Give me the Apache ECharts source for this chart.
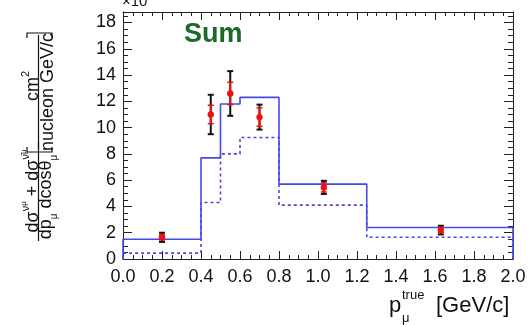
<!DOCTYPE html>
<html><head><meta charset="utf-8">
<script src="https://cdn.jsdelivr.net/npm/echarts@6/dist/echarts.min.js"></script>
<style>html,body{margin:0;padding:0;background:#fff}#c{width:529px;height:325px}</style>
</head><body><div id="c"></div>
<script>
const binEdges = [0, 0.4, 0.5, 0.6, 0.8, 1.25, 2.0];
const solidValues = [1.5, 7.7, 11.8, 12.3, 5.7, 2.4];
const dashedValues = [0.45, 4.3, 8.0, 9.25, 4.1, 1.65];
const pointX = [0.2, 0.45, 0.55, 0.70, 1.03, 1.63];
const pointY = [1.65, 11.0, 12.6, 10.8, 5.45, 2.2];
const statErr = [0.2, 0.7, 0.85, 0.7, 0.35, 0.2];
const totalErr = [0.35, 1.5, 1.7, 0.95, 0.5, 0.33];
const xMin = 0, xMax = 2.0, xInterval = 0.2;
const yMin = 0, yMax = 18.8, yInterval = 2;

function stepData(edges, vals) {
  const d = [[edges[0], 0]];
  for (let i = 0; i < vals.length; i++) {
    d.push([edges[i], vals[i]]);
    d.push([edges[i + 1], vals[i]]);
  }
  d.push([edges[edges.length - 1], 0]);
  return d;
}
const points = pointX.map((x, i) => [x, pointY[i], statErr[i], totalErr[i]]);

const chart = echarts.init(document.getElementById('c'));
const lab = {fontFamily: 'Liberation Sans', fontSize: 18, color: '#111'};
const axLine = {show: true, onZero: false, lineStyle: {color: '#222', width: 1}};
function xAx(pos, showLab) {
  return {type: 'value', position: pos, min: xMin, max: xMax, interval: xInterval,
    axisLine: axLine, splitLine: {show: false},
    axisTick: {show: true, inside: true, length: 8, lineStyle: {color: '#222'}},
    minorTick: {show: true, splitNumber: 4, length: 4, lineStyle: {color: '#222'}},
    axisLabel: Object.assign({show: showLab, margin: 9, formatter: v => v.toFixed(1)}, lab)};
}
function yAx(pos, showLab) {
  return {type: 'value', position: pos, min: yMin, max: yMax, interval: yInterval,
    axisLine: axLine, splitLine: {show: false},
    axisTick: {show: true, inside: true, length: 9, lineStyle: {color: '#222'}},
    minorTick: {show: true, splitNumber: 4, length: 5, lineStyle: {color: '#222'}},
    axisLabel: Object.assign({show: showLab, margin: 7, showMaxLabel: false}, lab)};
}
const rotY = Math.PI / 2;
const tf = 'Liberation Sans';
chart.setOption({
  animation: false,
  grid: {left: 123, right: 16, top: 12, bottom: 66},
  xAxis: [xAx('bottom', true), xAx('top', false)],
  yAxis: [yAx('left', true), yAx('right', false)],
  series: [
    {type: 'line', data: stepData(binEdges, solidValues), symbol: 'none',
     lineStyle: {color: '#4848e8', width: 1.6}, z: 2},
    {type: 'line', data: stepData(binEdges, dashedValues), symbol: 'none',
     lineStyle: {color: '#4848e8', width: 1.6, type: [3, 3]}, z: 2},
    {type: 'custom', data: points, z: 5,
     renderItem: function (params, api) {
       const x = api.value(0), y = api.value(1), si = api.value(2), to = api.value(3);
       const c = api.coord([x, y]);
       const tHi = api.coord([x, y + to])[1], tLo = api.coord([x, y - to])[1];
       const sHi = api.coord([x, y + si])[1], sLo = api.coord([x, y - si])[1];
       const cap = 3;
       return {type: 'group', children: [
         {type: 'line', shape: {x1: c[0], y1: tHi, x2: c[0], y2: tLo}, style: {stroke: '#111', lineWidth: 2}},
         {type: 'line', shape: {x1: c[0] - cap, y1: tHi, x2: c[0] + cap, y2: tHi}, style: {stroke: '#111', lineWidth: 2}},
         {type: 'line', shape: {x1: c[0] - cap, y1: tLo, x2: c[0] + cap, y2: tLo}, style: {stroke: '#111', lineWidth: 2}},
         {type: 'line', shape: {x1: c[0], y1: sHi, x2: c[0], y2: sLo}, style: {stroke: '#ee1111', lineWidth: 2}},
         {type: 'line', shape: {x1: c[0] - cap, y1: sHi, x2: c[0] + cap, y2: sHi}, style: {stroke: '#ee1111', lineWidth: 1.5}},
         {type: 'line', shape: {x1: c[0] - cap, y1: sLo, x2: c[0] + cap, y2: sLo}, style: {stroke: '#ee1111', lineWidth: 1.5}},
         {type: 'circle', shape: {cx: c[0], cy: c[1], r: 3.2}, style: {fill: '#ee1111'}}
       ]};
     }}
  ],
  graphic: [
    {type: 'text', left: 184, top: 21, style: {text: 'Sum', fontFamily: tf, fontWeight: 'bold', fontSize: 27, fill: '#1c6a28'}},
    {type: 'text', x: 122, y: -6, style: {text: '×10', fontFamily: tf, fontSize: 15, fill: '#111'}},
    // x-axis title
    {type: 'text', x: 389, y: 306, style: {text: 'p', fontFamily: tf, fontSize: 22, fill: '#111', verticalAlign: 'middle'}},
    {type: 'text', x: 402, y: 295, style: {text: 'true', fontFamily: tf, fontSize: 13, fill: '#111', verticalAlign: 'middle'}},
    {type: 'text', x: 402, y: 318, style: {text: 'μ', fontFamily: tf, fontSize: 13, fill: '#111', verticalAlign: 'middle'}},
    {type: 'text', x: 436, y: 306, style: {text: '[GeV/c]', fontFamily: tf, fontSize: 22, fill: '#111', verticalAlign: 'middle'}},
    // y-axis title (rotated)
    {type: 'text', x: 31, y: 191, rotation: rotY, style: {
      text: '{a|dσ}{s|ν}{ss|μ}{a| + dσ}{s|ν̄}{ss|μ}', align: 'center', verticalAlign: 'middle',
      rich: {a: {fontFamily: tf, fontSize: 18, fill: '#111', lineHeight: 22, verticalAlign: 'bottom'},
             s: {fontFamily: tf, fontSize: 11, fill: '#111', lineHeight: 22, verticalAlign: 'top'},
             ss: {fontFamily: tf, fontSize: 8, fill: '#111', lineHeight: 22, verticalAlign: 'top'}}}},
    {type: 'line', shape: {x1: 38.5, y1: 241, x2: 38.5, y2: 142}, style: {stroke: '#111', lineWidth: 1.2}},
    {type: 'text', x: 48, y: 197, rotation: rotY, style: {
      text: '{a|dp}{b|μ}{a| dcosθ}{b|μ}', align: 'center', verticalAlign: 'middle',
      rich: {a: {fontFamily: tf, fontSize: 18, fill: '#111', lineHeight: 22, verticalAlign: 'top'},
             b: {fontFamily: tf, fontSize: 10, fill: '#111', lineHeight: 22, verticalAlign: 'bottom'}}}},
    {type: 'polyline', shape: {points: [[27, 147], [27, 152], [52, 152], [52, 147]]}, style: {stroke: '#111', lineWidth: 1.2, fill: null}},
    {type: 'polyline', shape: {points: [[27, 38], [27, 33], [52, 33], [52, 38]]}, style: {stroke: '#111', lineWidth: 1.2, fill: null}},
    {type: 'line', shape: {x1: 38.5, y1: 149, x2: 38.5, y2: 35}, style: {stroke: '#111', lineWidth: 1.2}},
    {type: 'text', x: 31, y: 86, rotation: rotY, style: {
      text: '{a|cm}{s|2}', align: 'center', verticalAlign: 'middle',
      rich: {a: {fontFamily: tf, fontSize: 18, fill: '#111', lineHeight: 22, verticalAlign: 'bottom'},
             s: {fontFamily: tf, fontSize: 11, fill: '#111', lineHeight: 22, verticalAlign: 'top'}}}},
    {type: 'text', x: 48, y: 92, rotation: rotY, style: {
      text: 'nucleon GeV/c', align: 'center', verticalAlign: 'middle', fontFamily: tf, fontSize: 18, fill: '#111'}}
  ]
});
</script></body></html>
